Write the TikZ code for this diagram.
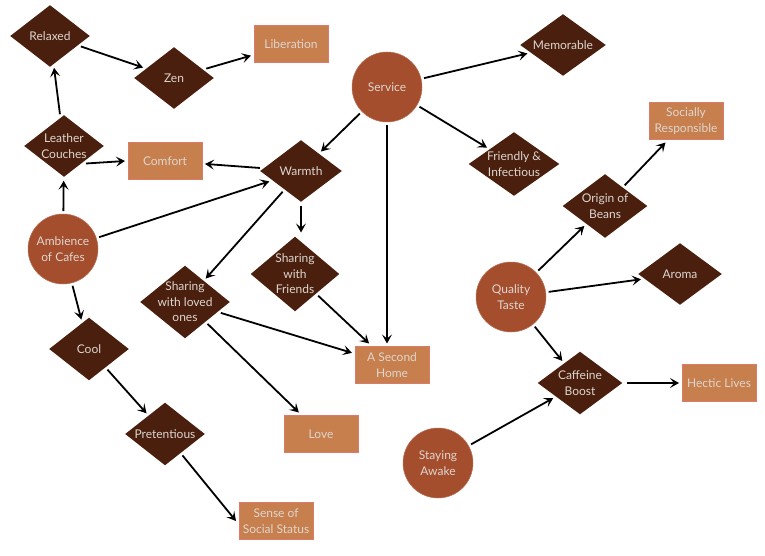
\documentclass[tikz,border=0pt]{standalone}
\usepackage{fontspec}
\setmainfont{Lato}
\usetikzlibrary{shapes.geometric,arrows.meta}
\definecolor{dia}{HTML}{4A1F0E}
\definecolor{circ}{HTML}{A54E2E}
\definecolor{boxf}{HTML}{C77F4E}
\definecolor{boxd}{HTML}{DD7A6C}
\definecolor{txt}{HTML}{DDD6CF}
\begin{document}
\begin{tikzpicture}[x=1pt,y=-1pt,
  every node/.style={font=\fontsize{12}{15.5}\selectfont, text=txt, align=center},
  dnode/.style={diamond, fill=dia, inner sep=0pt, outer sep=3pt, minimum width=#1},
  dnode/.default=82pt,
  dlab/.style={text=txt, align=center, inner sep=0pt},
  cnode/.style={circle, fill=circ, draw=circ!80!white, line width=0.5pt, minimum size=70pt, inner sep=0pt, outer sep=3pt},
  bnode/.style={rectangle, fill=boxf, draw=boxd, line width=0.6pt, minimum width=74pt, minimum height=37pt, inner sep=1pt, outer sep=3pt},
  arr/.style={draw=black, line width=1.8pt, -{Stealth[length=9pt,width=10pt,inset=4pt]}}]
\useasboundingbox (0,0) rectangle (765,556);
\fill[white] (0,0) rectangle (765,556);
% diamonds
\node[dnode, minimum height=64pt, label={[dlab]center:Relaxed}] (relaxed) at (50,36) {};
\node[dnode, minimum height=64pt, label={[dlab]center:Zen}] (zen) at (174,78) {};
\node[dnode, minimum height=64pt, label={[dlab]center:Leather\\Couches}] (leather) at (64,146) {};
\node[dnode=84pt, minimum height=64pt, label={[dlab]center:Warmth}] (warmth) at (301,171) {};
\node[dnode=88pt, minimum height=64pt, label={[dlab]center:Memorable}] (memorable) at (563,45) {};
\node[dnode=93pt, minimum height=66pt, label={[dlab]center:Friendly \&\\Infectious}] (friendly) at (514,164) {};
\node[dnode=87pt, minimum height=66pt, label={[dlab]center:Origin of\\Beans}] (origin) at (605,206) {};
\node[dnode=86pt, minimum height=64pt, label={[dlab]center:Aroma}] (aroma) at (680,274) {};
\node[dnode=87pt, minimum height=65pt, label={[dlab]center:Caffeine\\Boost}] (caffeine) at (580,383) {};
\node[dnode=91pt, minimum height=77pt, label={[dlab]center:Sharing\\with\\Friends}] (friends) at (295,274) {};
\node[dnode=92pt, minimum height=75pt, label={[dlab]center:Sharing\\with loved\\ones}] (loved) at (185,302) {};
\node[dnode, minimum height=65pt, label={[dlab]center:Cool}] (cool) at (89,349) {};
\node[dnode, minimum height=65pt, label={[dlab]center:Pretentious}] (pret) at (165,434) {};
% circles
\node[cnode] (service) at (387,87) {Service};
\node[cnode] (ambience) at (63,249) {Ambience\\of Cafes};
\node[cnode] (quality) at (511,297) {Quality\\Taste};
\node[cnode] (awake) at (438,463) {Staying\\Awake};
% boxes
\node[bnode] (liberation) at (291,44) {Liberation};
\node[bnode] (comfort) at (165,161) {Comfort};
\node[bnode] (social) at (686,121) {Socially\\Responsible};
\node[bnode] (home) at (392,365) {A Second\\Home};
\node[bnode] (love) at (321,434) {Love};
\node[bnode] (status) at (276,521) {Sense of\\Social Status};
\node[bnode] (hectic) at (719,383) {Hectic Lives};
% connectors
\draw[arr] (relaxed) -- (zen);
\draw[arr] (zen) -- (liberation);
\draw[arr] (leather) -- (relaxed);
\draw[arr] (ambience) -- (leather);
\draw[arr] (leather.south east) -- (comfort.west);
\draw[arr] (warmth) -- (comfort);
\draw[arr] (ambience) -- (warmth);
\draw[arr] (service) -- (warmth);
\draw[arr] (service) -- (memorable);
\draw[arr] (service) -- (friendly);
\draw[arr] (service) -- (service |- home.north);
\draw[arr] (warmth) -- (loved);
\draw[arr] (warmth) -- (warmth |- friends.north);
\draw[arr] (friends) -- (home);
\draw[arr] (loved) -- (home);
\draw[arr] (loved) -- (love);
\draw[arr] (ambience) -- (cool);
\draw[arr] (cool) -- (pret);
\draw[arr] (pret) -- (status.west);
\draw[arr] (quality) -- (origin);
\draw[arr] (origin) -- (social);
\draw[arr] (quality) -- (aroma);
\draw[arr] (quality) -- (caffeine);
\draw[arr] (awake) -- (caffeine);
\draw[arr] (caffeine) -- (hectic);
\end{tikzpicture}
\end{document}
